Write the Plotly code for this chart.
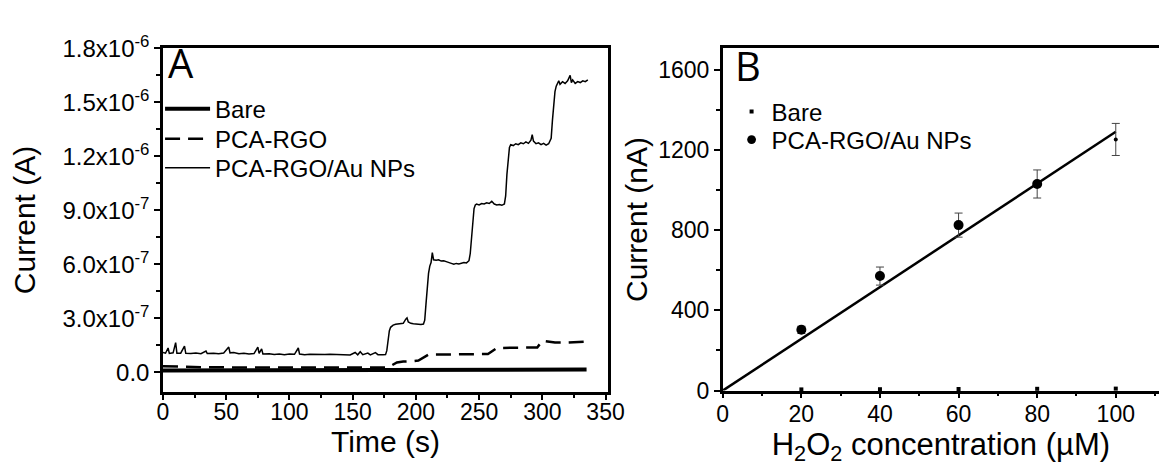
import plotly.graph_objects as go

# ---------------- Panel A data (current in units of 1e-7 A) ----------------
au_time = [0, 2, 4, 5, 8, 10, 11, 14, 17, 18, 22, 26, 30, 34, 35, 40, 44, 48, 52, 53,
           56, 60, 64, 68, 72, 75, 76, 78, 79, 84, 88, 92, 96, 100, 104, 107, 108, 112, 116, 120,
           124, 128, 132, 136, 140, 144, 148, 152, 154, 156, 158, 162, 164, 168, 170, 174, 176, 177, 178, 179,
           180, 182, 184, 186, 188, 190, 192, 193, 194, 196, 198, 200, 202, 204, 206, 207, 208, 209, 210, 211,
           212, 213, 214, 216, 218, 220, 222, 224, 226, 228, 230, 232, 234, 236, 238, 240, 242, 243, 244, 245,
           246, 247, 248, 250, 252, 254, 256, 258, 260, 262, 264, 266, 268, 270, 271, 272, 273, 274, 275, 277,
           279, 281, 283, 285, 287, 289, 291, 292, 293, 295, 297, 299, 301, 303, 305, 307, 308, 309, 310, 311,
           312, 313, 314, 316, 318, 320, 322, 323, 324, 326, 328, 330, 332, 334, 336]
au_current = [1.10, 1.06, 1.35, 1.05, 1.08, 1.65, 1.06, 1.06, 1.45, 1.05, 1.04, 1.07, 1.03, 1.18, 1.04, 1.06, 1.03, 1.07, 1.40, 1.08,
              1.10, 1.03, 1.06, 1.02, 1.04, 1.40, 1.05, 1.30, 1.02, 1.03, 0.99, 1.01, 0.98, 1.02, 1.00, 1.35, 1.01, 0.98, 1.00, 0.99,
              0.97, 0.99, 1.00, 0.98, 0.97, 0.96, 0.96, 1.10, 0.97, 1.14, 0.98, 1.07, 0.97, 1.09, 0.98, 0.97, 0.98, 1.20, 1.80, 2.30,
              2.50, 2.62, 2.67, 2.70, 2.72, 2.72, 2.95, 3.02, 2.80, 2.72, 2.70, 2.68, 2.68, 2.66, 2.68, 2.90, 3.80, 4.80, 5.50, 5.90,
              6.10, 6.65, 6.25, 6.22, 6.25, 6.18, 6.20, 6.15, 6.12, 6.05, 6.00, 6.05, 6.02, 6.08, 6.10, 6.08, 6.20, 6.60, 7.60, 8.60,
              9.10, 9.30, 9.35, 9.30, 9.38, 9.35, 9.42, 9.38, 9.50, 9.35, 9.30, 9.32, 9.28, 9.35, 9.80, 11.00, 12.00, 12.50, 12.65, 12.60,
              12.70, 12.65, 12.75, 12.70, 12.80, 12.72, 12.90, 13.20, 12.85, 12.70, 12.75, 12.65, 12.72, 12.62, 12.70, 13.00, 14.00, 15.00, 15.60, 15.90,
              16.05, 16.20, 16.00, 16.15, 16.05, 16.20, 16.50, 16.10, 16.25, 16.05, 16.15, 16.10, 16.20, 16.15, 16.25]

rgo_time = [0, 10, 30, 60, 100, 140, 160, 178, 185, 190, 198, 202, 210, 220, 240, 257, 264, 280, 296, 300, 310, 320, 335]
rgo_current = [0.34, 0.32, 0.28, 0.27, 0.26, 0.25, 0.26, 0.27, 0.55, 0.60, 0.62, 0.65, 0.98, 1.00, 1.00, 1.02, 1.35, 1.37, 1.38, 1.75, 1.65, 1.65, 1.70]

bare_time = [0, 100, 200, 290, 300, 335]
bare_current = [0.10, 0.10, 0.10, 0.11, 0.14, 0.15]

SCALE_A = 1e-7  # stored values are in units of 1e-7 A

a_ytick_vals = [0, 3e-7, 6e-7, 9e-7, 1.2e-6, 1.5e-6, 1.8e-6]
a_ytick_text = ["0.0", "3.0x10<sup>-7</sup>", "6.0x10<sup>-7</sup>", "9.0x10<sup>-7</sup>",
                "1.2x10<sup>-6</sup>", "1.5x10<sup>-6</sup>", "1.8x10<sup>-6</sup>"]

# ---------------- Panel B data (nA) ----------------
conc = [20, 40, 60, 80, 100]
au_resp = [303, 571, 825, 1030, 1252]
au_err = [18, 45, 60, 70, 80]
bare_resp = [6, 7, 8, 9, 10]
fit_slope = 12.9
fit_range = [0, 100]

FONT = "Liberation Sans, Arial, sans-serif"
TICKF = dict(family=FONT, size=23, color="black")
TITLEF = dict(family=FONT, size=30, color="black")
LEGF = dict(family=FONT, size=24, color="black")

fig = go.Figure()

# Panel A traces
fig.add_trace(go.Scatter(x=bare_time, y=[v * SCALE_A for v in bare_current], mode="lines",
                         name="Bare", line=dict(color="black", width=4),
                         xaxis="x", yaxis="y", legend="legend"))
fig.add_trace(go.Scatter(x=rgo_time, y=[v * SCALE_A for v in rgo_current], mode="lines",
                         name="PCA-RGO", line=dict(color="black", width=2.5, dash="15px,8px"),
                         xaxis="x", yaxis="y", legend="legend2"))
fig.add_trace(go.Scatter(x=au_time, y=[v * SCALE_A for v in au_current], mode="lines",
                         name="PCA-RGO/Au NPs", line=dict(color="black", width=1.5),
                         xaxis="x", yaxis="y", legend="legend3"))

# Panel B traces
fig.add_trace(go.Scatter(x=fit_range, y=[fit_slope * v for v in fit_range], mode="lines",
                         showlegend=False, line=dict(color="black", width=2.5),
                         xaxis="x2", yaxis="y2"))
fig.add_trace(go.Scatter(x=conc, y=bare_resp, mode="markers", name="Bare",
                         marker=dict(symbol="square", size=4, color="black"),
                         xaxis="x2", yaxis="y2", legend="legend4", cliponaxis=False))
fig.add_trace(go.Scatter(x=conc, y=au_resp, mode="markers", name="PCA-RGO/Au NPs",
                         marker=dict(symbol="circle", size=[10, 10, 10, 10, 4], color="#000000",
                                     opacity=1, line=dict(width=0)),
                         error_y=dict(type="data", array=au_err, visible=True, color="#444444",
                                      thickness=1, width=4),
                         xaxis="x2", yaxis="y2", legend="legend5"))

W, H = 1168, 462
axA_x0, axA_x1 = 152 / W, 606 / W
axA_y0, axA_y1 = 1 - 392 / H, 1 - 25 / H
axB_x0, axB_x1 = 723 / W, 1.0
axB_y0, axB_y1 = 1 - 391 / H, 1 - 25 / H

common = dict(showline=True, linecolor="black", linewidth=2.5, showgrid=False, zeroline=False,
              ticks="outside", tickcolor="black", tickwidth=2, tickfont=TICKF)


def leg(xpx, ypx, iw):
    return dict(x=xpx / W, y=1 - ypx / H, xanchor="left", yanchor="middle",
                bgcolor="rgba(0,0,0,0)", borderwidth=0, font=LEGF, itemwidth=iw)


fig.update_layout(
    width=W, height=H, margin=dict(l=0, r=0, t=0, b=0),
    paper_bgcolor="white", plot_bgcolor="white",
    xaxis=dict(domain=[axA_x0, axA_x1], range=[0, 352], anchor="y", mirror=True,
               tickvals=[0, 50, 100, 150, 200, 250, 300, 350], ticklen=6, ticklabelstandoff=-8,
               minor=dict(dtick=25, tick0=0, ticks="outside", ticklen=4, tickwidth=2, tickcolor="black"),
               title=dict(text="Time (s)", font=TITLEF, standoff=0), **common),
    yaxis=dict(domain=[axA_y0, axA_y1], range=[-1.07e-7, 1.8e-6], anchor="x", mirror=True,
               tickvals=a_ytick_vals, ticktext=a_ytick_text, ticklen=6,
               minor=dict(dtick=1.5e-7, tick0=0, ticks="outside", ticklen=4, tickwidth=2, tickcolor="black"),
               title=dict(text="Current (A)", font=TITLEF, standoff=21),
               **{**common, "tickfont": dict(family=FONT, size=24, color="black")}),
    xaxis2=dict(domain=[axB_x0, axB_x1], range=[0, 111], anchor="y2", mirror=True,
                tickvals=[0, 20, 40, 60, 80, 100], ticklen=5, ticklabelstandoff=-4,
                minor=dict(dtick=10, tick0=0, ticks="outside", ticklen=3, tickwidth=2, tickcolor="black"),
                title=dict(text="H<sub>2</sub>O<sub>2</sub> concentration (\u00b5M)",
                           font=dict(family=FONT, size=31, color="black"), standoff=0),
                **common),
    yaxis2=dict(domain=[axB_y0, axB_y1], range=[0, 1706], anchor="x2", mirror=False,
                tickvals=[0, 400, 800, 1200, 1600], ticklen=6,
                minor=dict(dtick=200, tick0=0, ticks="outside", ticklen=4, tickwidth=2, tickcolor="black"),
                title=dict(text="Current (nA)", font=TITLEF, standoff=2), **common),
    legend=leg(149, 90, 45),
    legend2=leg(149, 122, 45),
    legend3=leg(149, 153, 45),
    legend4=leg(732, 93, 30),
    legend5=leg(732, 123, 30),
    annotations=[
        dict(text="A", xref="paper", yref="paper", x=170 / W, y=1 - 40 / H, xanchor="center", yanchor="middle",
             showarrow=False, font=dict(family="Open Sans, sans-serif", size=40, color="black")),
        dict(text="B", xref="paper", yref="paper", x=749 / W, y=1 - 43 / H, xanchor="center", yanchor="middle",
             showarrow=False, font=dict(family="Open Sans, sans-serif", size=40, color="black")),
    ],
)

fig.write_html("out.html")
